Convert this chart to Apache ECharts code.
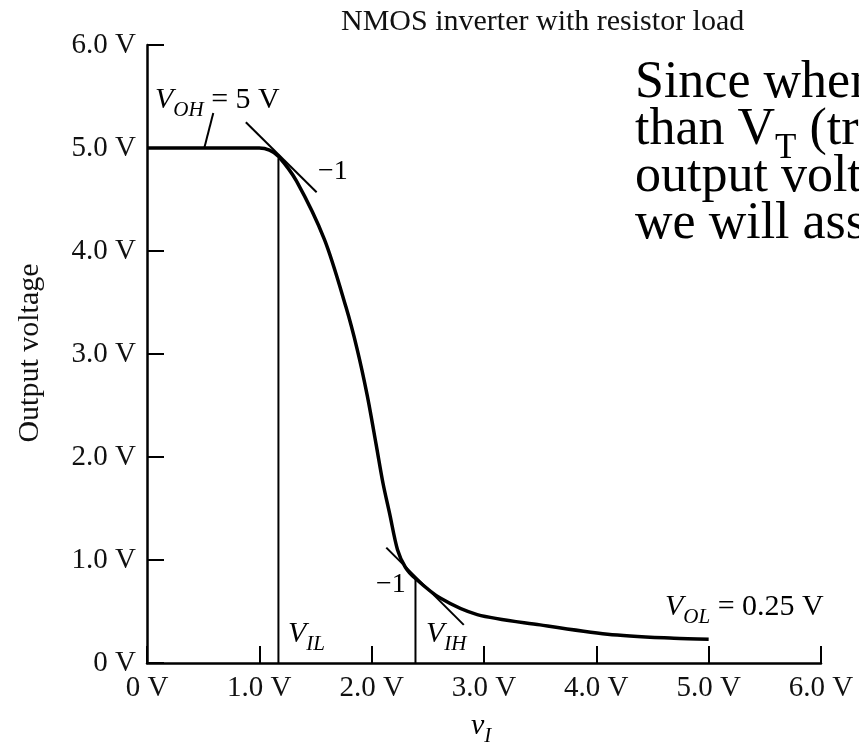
<!DOCTYPE html>
<html>
<head>
<meta charset="utf-8">
<script src="https://cdn.jsdelivr.net/npm/echarts@6/dist/echarts.min.js"></script>
<style>
  html, body { margin: 0; padding: 0; background: #fff; }
  #main { width: 859px; height: 749px; }
</style>
</head>
<body>
<div id="main"></div>
<script>
// transfer curve (input volts -> output volts)
var vIn  = [0, 0.5, 1.0, 1.09, 1.17, 1.33, 1.58, 1.77, 1.87, 1.96, 2.04, 2.10, 2.16, 2.23, 2.30, 2.39, 2.61, 2.94, 3.50, 4.10, 4.69, 5.0];
var vOut = [5.0, 5.0, 5.0, 4.98, 4.92, 4.68, 4.11, 3.46, 3.05, 2.60, 2.12, 1.75, 1.45, 1.10, 0.93, 0.82, 0.63, 0.47, 0.37, 0.28, 0.24, 0.23];

var vIL = 1.17, vILtop = 4.9;
var vIH = 2.39, vIHtop = 0.82;
var tangentHigh = [[0.88, 5.25], [1.51, 4.57]];
var tangentLow  = [[2.13, 1.12], [2.82, 0.37]];
var vohLeader   = [[0.51, 5.0], [0.59, 5.34]];

var FONT = '"Liberation Serif", "DejaVu Serif", serif';
var chartDom = document.getElementById('main');
var myChart = echarts.init(chartDom);
var option;

function voltLabel(v) {
    return v === 0 ? '0 V' : v.toFixed(1) + ' V';
}

function curvePoints() {
    var pts = [];
    for (var i = 0; i < vIn.length; i++) pts.push([vIn[i], vOut[i]]);
    return pts;
}

function thinLine(data, w) {
    return {
        type: 'line',
        data: data,
        symbol: 'none',
        silent: true,
        lineStyle: { color: '#000', width: w || 2 }
    };
}

// subscripts: small lineHeight + top padding pushes them below the baseline
var sub = { fontFamily: FONT, fontStyle: 'italic', fontSize: 21, lineHeight: 8, padding: [20, 0, 0, 0], color: '#000' };
var ital = { fontFamily: FONT, fontStyle: 'italic', fontSize: 30, color: '#000' };
var norm = { fontFamily: FONT, fontSize: 30, color: '#000' };

option = {
    backgroundColor: '#fff',
    animation: false,
    grid: { left: 147, right: 38, top: 45, bottom: 86 },
    xAxis: {
        type: 'value',
        min: 0, max: 6, interval: 1,
        axisLine: { lineStyle: { color: '#000', width: 2.5 } },
        axisTick: { inside: true, length: 17, lineStyle: { color: '#000', width: 2 } },
        axisLabel: { formatter: voltLabel, fontFamily: FONT, fontSize: 29, color: '#111', margin: 11 },
        splitLine: { show: false }
    },
    yAxis: {
        type: 'value',
        min: 0, max: 6, interval: 1,
        axisLine: { show: true, lineStyle: { color: '#000', width: 2.5 } },
        axisTick: { show: true, inside: true, length: 17, lineStyle: { color: '#000', width: 2 } },
        axisLabel: { formatter: voltLabel, fontFamily: FONT, fontSize: 29, color: '#111', margin: 11 },
        splitLine: { show: false }
    },
    series: [
        {
            type: 'line',
            data: curvePoints(),
            smooth: 0.3,
            symbol: 'none',
            lineStyle: { color: '#000', width: 3.5 }
        },
        thinLine([[vIL, 0], [vIL, vILtop]], 2),
        thinLine([[vIH, 0], [vIH, vIHtop]], 2),
        thinLine(tangentHigh, 2),
        thinLine(tangentLow, 2),
        thinLine(vohLeader, 2)
    ],
    graphic: [
        {
            type: 'text', x: 341, y: 22,
            style: { text: 'NMOS inverter with resistor load', font: '30px ' + FONT, fill: '#111', verticalAlign: 'middle' }
        },
        {
            type: 'text', x: 30, y: 353, rotation: Math.PI / 2,
            style: { text: 'Output voltage', font: '30px ' + FONT, fill: '#111', align: 'center', verticalAlign: 'middle' }
        },
        {
            type: 'text', x: 471, y: 726,
            style: { text: '{i|v}{s|I}', rich: { i: ital, s: sub }, verticalAlign: 'middle' }
        },
        {
            type: 'text', x: 155, y: 100,
            style: { text: '{i|V}{s|OH}{n| = 5 V}', rich: { i: ital, s: sub, n: norm }, verticalAlign: 'middle' }
        },
        {
            type: 'text', x: 318, y: 172,
            style: { text: '\u22121', font: '28px ' + FONT, fill: '#000', verticalAlign: 'middle' }
        },
        {
            type: 'text', x: 376, y: 585,
            style: { text: '\u22121', font: '28px ' + FONT, fill: '#000', verticalAlign: 'middle' }
        },
        {
            type: 'text', x: 288, y: 634,
            style: { text: '{i|V}{s|IL}', rich: { i: ital, s: sub }, verticalAlign: 'middle' }
        },
        {
            type: 'text', x: 426, y: 634,
            style: { text: '{i|V}{s|IH}', rich: { i: ital, s: sub }, verticalAlign: 'middle' }
        },
        {
            type: 'text', x: 665, y: 607,
            style: { text: '{i|V}{s|OL}{n| = 0.25 V}', rich: { i: ital, s: sub, n: norm }, verticalAlign: 'middle' }
        },
        {
            type: 'text', x: 635, y: 60,
            style: {
                text: '{b|Since when v is less}\n{b|than V}{t|T}{b| (transistor off), the}\n{b|output voltage is high,}\n{b|we will assume}',
                rich: {
                    b: { fontFamily: FONT, fontSize: 52, lineHeight: 47, color: '#000' },
                    t: { fontFamily: FONT, fontSize: 35, lineHeight: 8, padding: [36, 0, 0, 0], color: '#000' }
                },
                verticalAlign: 'top'
            }
        }
    ]
};

option && myChart.setOption(option);
</script>
</body>
</html>
